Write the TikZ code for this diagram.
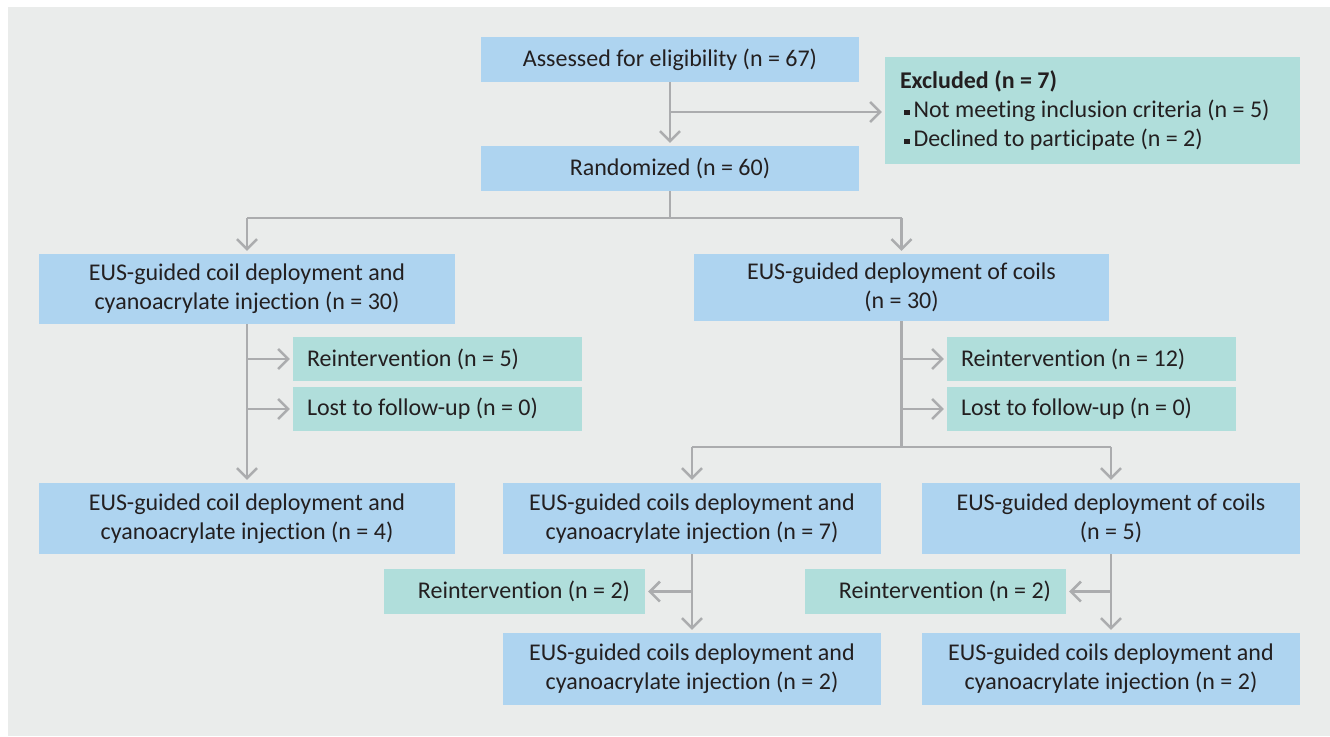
\documentclass[tikz,border=0pt]{standalone}
\usepackage{fontspec}
\setmainfont{Carlito}[Ligatures=NoCommon]
\usetikzlibrary{arrows.meta}
\definecolor{boxblue}{HTML}{AED4F0}
\definecolor{boxteal}{HTML}{B0DEDB}
\definecolor{bggray}{HTML}{EAECEB}
\definecolor{linegray}{HTML}{ABACAE}
\definecolor{txtdark}{HTML}{231F20}
\newcommand{\sqbul}{\rule[2pt]{5.5pt}{5.5pt}\hspace{4pt}}

\begin{document}
\begin{tikzpicture}
[x=1pt,y=-1pt,
every node/.style={text=txtdark,font=\fontsize{24}{29}\selectfont,inner sep=0pt,align=center},
bluebox/.style={fill=boxblue},
tealbox/.style={fill=boxteal},
ln/.style={draw=linegray,line width=2.5pt},
arr/.style={ln,-{Straight Barb[length=10pt,width=20pt]},shorten >=3pt}]
\useasboundingbox (0,0) rectangle (1330,736);
\fill[bggray] (8,7) rectangle (1330,736);
% top part
\node[bluebox,minimum width=378pt,minimum height=45pt] (assess) at (670,59.5) {Assessed for eligibility (n = 67)};
\node[tealbox,minimum width=415pt,minimum height=107pt,text width=385pt,align=flush left] (excl) at (1092.5,110.5)
{{\bfseries Excluded (n = 7)}\\
\hspace*{4pt}\sqbul Not meeting inclusion criteria (n = 5)\\
\hspace*{4pt}\sqbul Declined to participate (n = 2)};
\node[bluebox,minimum width=378pt,minimum height=45pt] (rand) at (670,168.5) {Randomized (n = 60)};
% the two arms
\node[bluebox,minimum width=416pt,minimum height=70pt] (grpA) at (247,289) {EUS-guided coil deployment and\\cyanoacrylate injection (n = 30)};
\node[bluebox,minimum width=415pt,minimum height=67pt] (grpB) at (901.5,287.5) {EUS-guided deployment of coils\\(n = 30)};
\node[tealbox,minimum width=289pt,minimum height=44pt,text width=261pt,align=flush left] (reA1) at (437.5,359) {Reintervention (n = 5)};
\node[tealbox,minimum width=289pt,minimum height=44pt,text width=261pt,align=flush left] (reA2) at (437.5,409) {Lost to follow-up (n = 0)};
\node[tealbox,minimum width=289pt,minimum height=44pt,text width=261pt,align=flush left] (reB1) at (1091.5,359) {Reintervention (n = 12)};
\node[tealbox,minimum width=289pt,minimum height=44pt,text width=261pt,align=flush left] (reB2) at (1091.5,409) {Lost to follow-up (n = 0)};
% second level
\node[bluebox,minimum width=416pt,minimum height=71pt] (finA) at (247,518.5) {EUS-guided coil deployment and\\cyanoacrylate injection (n = 4)};
\node[bluebox,minimum width=378pt,minimum height=71pt] (subB1) at (692,518.5) {EUS-guided coils deployment and\\cyanoacrylate injection (n = 7)};
\node[bluebox,minimum width=378pt,minimum height=71pt] (subB2) at (1111,518.5) {EUS-guided deployment of coils\\(n = 5)};
\node[tealbox,minimum width=261pt,minimum height=45pt,text width=231pt,align=flush right] (reC) at (514.5,591.5) {Reintervention (n = 2)};
\node[tealbox,minimum width=261pt,minimum height=45pt,text width=231pt,align=flush right] (reD) at (935.5,591.5) {Reintervention (n = 2)};
\node[bluebox,minimum width=378pt,minimum height=72pt] (finC) at (692,669) {EUS-guided coils deployment and\\cyanoacrylate injection (n = 2)};
\node[bluebox,minimum width=378pt,minimum height=72pt] (finD) at (1111,669) {EUS-guided coils deployment and\\cyanoacrylate injection (n = 2)};
% split points
\coordinate (s1) at (670,112);
\coordinate (s2) at (670,218);
\coordinate (s3) at (901.5,447);
% connectors
\foreach \from/\to in {assess/rand,grpA/finA,subB1/finC,subB2/finD}
\draw[arr] (\from) -- (\to);
\draw[arr] (s1) -- (s1 -| excl.west);
\draw[ln] (rand) -- (s2);
\draw[ln] (s2 -| grpA) -- (s2 -| grpB);
\draw[arr] (s2 -| grpA) -- (grpA);
\draw[arr] (s2 -| grpB) -- (grpB);
\foreach \side in {reA1,reA2}
\draw[arr] (\side -| grpA) -- (\side);
\foreach \side in {reB1,reB2}
\draw[arr] (\side -| grpB) -- (\side);
\draw[ln] (grpB) -- (s3);
\draw[ln] (s3 -| subB1) -- (s3 -| subB2);
\draw[arr] (s3 -| subB1) -- (subB1);
\draw[arr] (s3 -| subB2) -- (subB2);
\draw[arr] (reC -| subB1) -- (reC);
\draw[arr] (reD -| subB2) -- (reD);
\end{tikzpicture}
\end{document}
